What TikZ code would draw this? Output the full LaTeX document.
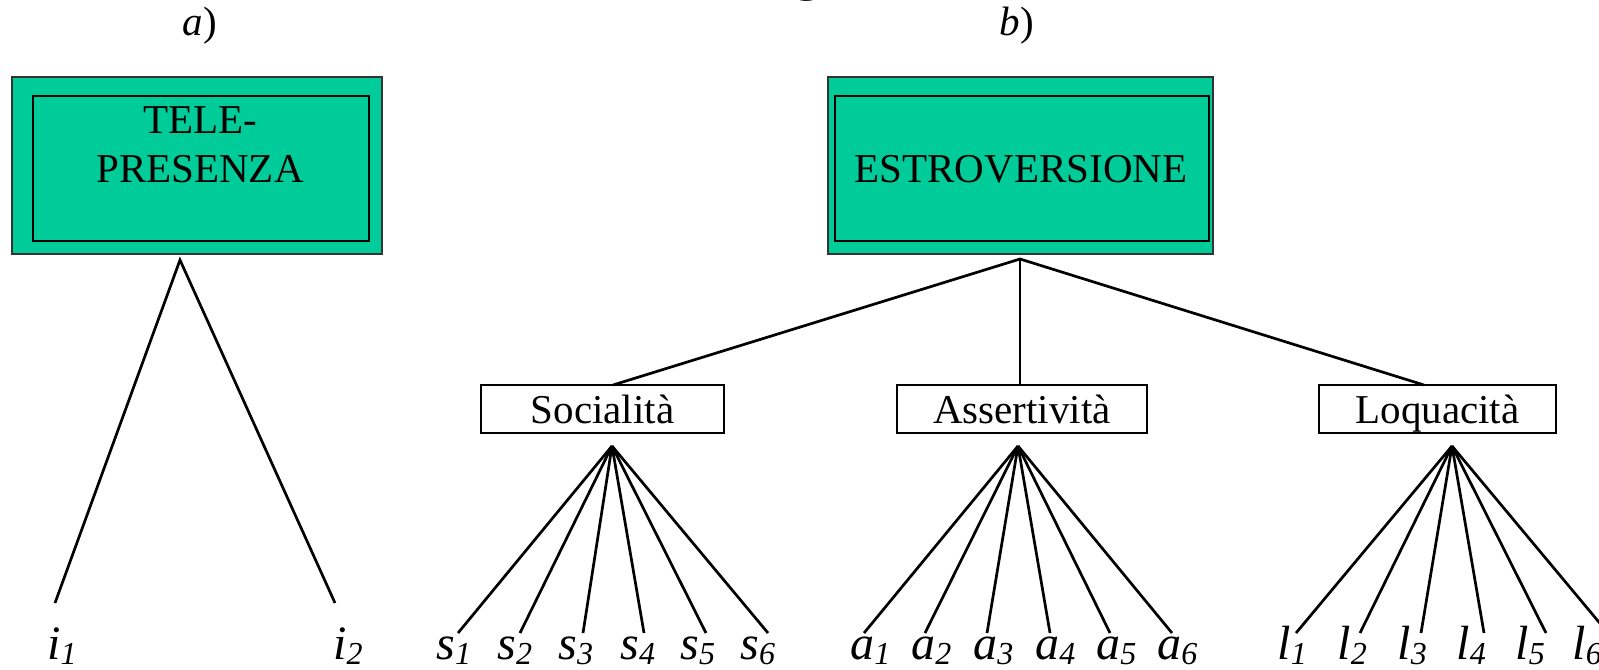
\documentclass[tikz,border=0pt]{standalone}
\usepackage{fontspec}
\setmainfont{Liberation Serif}
\newfontfamily\gsans{Liberation Sans}
\definecolor{boxgreen}{RGB}{0,204,153}
\newcommand\lsub[1]{\raisebox{-2.5pt}{\fontsize{16}{16}\selectfont\itshape #1}}
\tikzset{
  outerbox/.style={draw=black!80, line width=1pt, fill=boxgreen, inner sep=0pt},
  innerbox/.style={draw=black, line width=1.3pt, inner sep=0pt},
  subbox/.style={draw=black, line width=1.3pt, fill=white, inner sep=0pt, minimum height=24pt,
    text height=14pt, text depth=0pt, font=\fontsize{20.5}{24}\selectfont},
  bigtext/.style={font=\fontsize{20.5}{24}\selectfont, inner sep=0pt, anchor=base},
  paneltext/.style={font=\fontsize{20.5}{24}\selectfont, inner sep=0pt, anchor=base},
  leaf/.style={font=\fontsize{24}{28}\selectfont\itshape, inner sep=0pt, anchor=base west},
  edge/.style={draw=black, line width=1.35pt}
}
\begin{document}
\begin{tikzpicture}[x=0.5pt,y=-0.5pt]
\useasboundingbox (0,0) rectangle (1599,669);
\clip (0,0) rectangle (1599,669);

% stray glyph fragment at top
\node[font=\gsans\fontsize{36}{36}\selectfont, anchor=base west, inner sep=0pt] (gfrag) at (787,-13) {g};

% panel labels
\node[paneltext] (pa) at (200,35) {\textit{a})};
\node[paneltext] (pb) at (1017,35) {\textit{b})};

% a) TELEPRESENZA
\node[outerbox, minimum width=185pt, minimum height=88.5pt] (teleO) at (197,165.5) {};
\node[innerbox, minimum width=168pt, minimum height=72.5pt] (teleI) at (201,168.5) {};
\node[bigtext] (teleA) at (200,133) {TELE-};
\node[bigtext] (teleB) at (200,182) {PRESENZA};

\coordinate (apexA) at (180,260);
\coordinate (i1e) at (55,603);
\coordinate (i2e) at (335,603);
\draw[edge] (i1e) -- (apexA) -- (i2e);
\node[leaf] (i1) at (47,659) {i\lsub{1}};
\node[leaf] (i2) at (333,659) {i\lsub{2}};

% b) ESTROVERSIONE
\node[outerbox, minimum width=192.5pt, minimum height=88.5pt] (estO) at (1020.5,165.5) {};
\node[innerbox, minimum width=187pt, minimum height=72.5pt] (estI) at (1022,168.5) {};
\node[bigtext] (estT) at (1021,182) {ESTROVERSIONE};

\node[subbox, minimum width=121.5pt] (soc) at (602.5,409) {Socialità};
\node[subbox, minimum width=125pt] (ass) at (1022,409) {Assertività};
\node[subbox, minimum width=118.5pt] (loq) at (1437.5,409) {Loquacità};

\coordinate (apexB) at (1020,259);
\coordinate (socT) at (613,385);
\coordinate (assT) at (1020,385);
\coordinate (loqT) at (1424,385);
\draw[edge] (socT) -- (apexB) -- (loqT);
\draw[edge] (apexB) -- (assT);

\coordinate (socA) at (612,446);
\coordinate (assA) at (1018,446);
\coordinate (loqA) at (1452,446);

\foreach \x [count=\i] in {458,520,583,644,706,768}
  \coordinate (se\i) at (\x,633);
\foreach \x [count=\i] in {864,925,987,1050,1110,1172}
  \coordinate (ae\i) at (\x,633);
\foreach \x [count=\i] in {1296,1360,1421,1484,1546,1608}
  \coordinate (le\i) at (\x,633);

\foreach \i in {1,...,6} {
  \draw[edge] (socA) -- (se\i);
  \draw[edge] (assA) -- (ae\i);
  \draw[edge] (loqA) -- (le\i);
}

\foreach \x [count=\i] in {436,497,558,620,680,740}
  \node[leaf] (s\i) at (\x,659) {s\lsub{\i}};
\foreach \x [count=\i] in {850,911,973,1035,1096,1157}
  \node[leaf] (a\i) at (\x,659) {a\lsub{\i}};
\foreach \x [count=\i] in {1277,1337,1397,1456,1515,1572}
  \node[leaf] (l\i) at (\x,659) {l\lsub{\i}};
\end{tikzpicture}
\end{document}
